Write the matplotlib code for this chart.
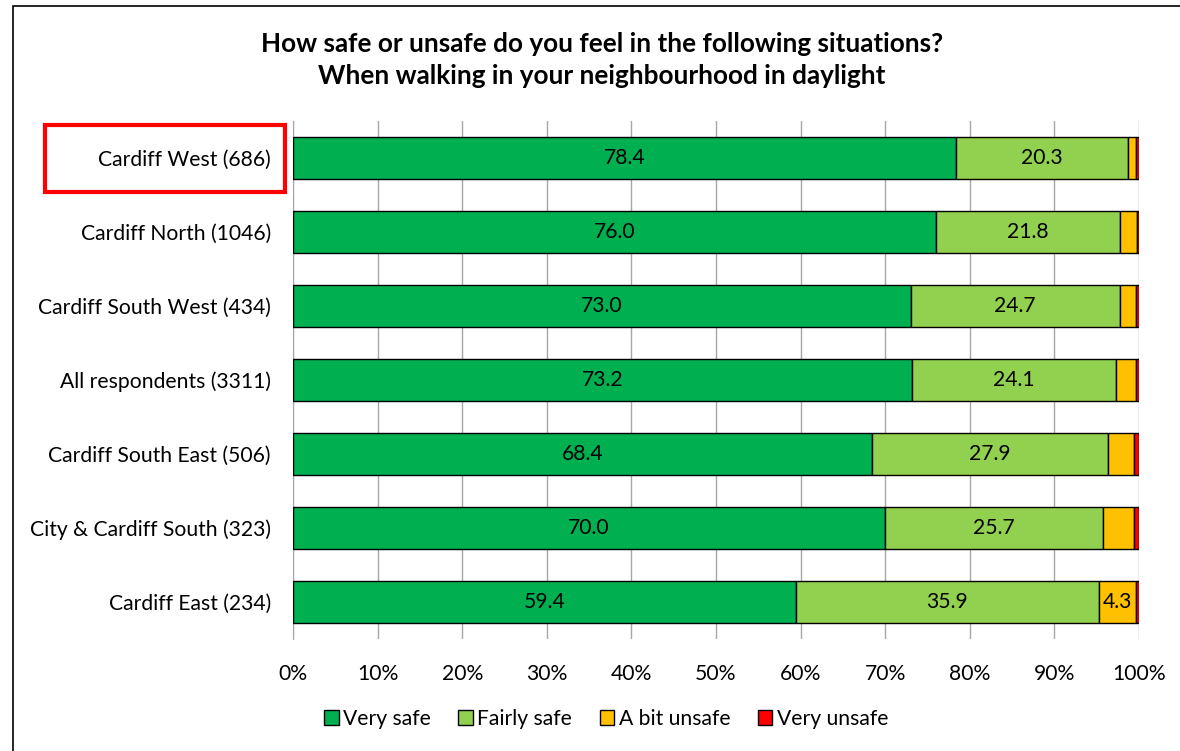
import matplotlib.pyplot as plt
import matplotlib.patches as mpatches
import numpy as np

plt.rcParams['font.family'] = ['Lato', 'DejaVu Sans']

areas = ['Cardiff West (686)', 'Cardiff North (1046)', 'Cardiff South West (434)',
         'All respondents (3311)', 'Cardiff South East (506)',
         'City & Cardiff South (323)', 'Cardiff East (234)']
very_safe = [78.4, 76.0, 73.0, 73.2, 68.4, 70.0, 59.4]
fairly_safe = [20.3, 21.8, 24.7, 24.1, 27.9, 25.7, 35.9]
bit_unsafe = [1.0, 2.0, 2.0, 2.3, 3.1, 3.7, 4.3]
very_unsafe = [0.3, 0.2, 0.3, 0.4, 0.6, 0.6, 0.4]

series = [('Very safe', very_safe, '#00B050'),
          ('Fairly safe', fairly_safe, '#92D050'),
          ('A bit unsafe', bit_unsafe, '#FFC000'),
          ('Very unsafe', very_unsafe, '#FF0000')]

fs = 15.2

fig = plt.figure(figsize=(11.8, 7.51), dpi=100)
ax = fig.add_axes([293/1180, 1 - 639/751, (1139-293)/1180, 518/751])

y = np.arange(len(areas))
left = np.zeros(len(areas))
for name, vals, col in series:
    vals = np.array(vals)
    ax.barh(y, vals, left=left, height=0.58, color=col, edgecolor='black',
            linewidth=1, label=name, zorder=3)
    for i, v in enumerate(vals):
        if name in ('Very safe', 'Fairly safe') or (name == 'A bit unsafe' and v >= 4):
            ax.text(left[i] + v / 2, y[i], f'{v:.1f}', ha='center', va='center',
                    fontsize=fs, zorder=4)
    left += vals

ax.set_xlim(0, 100)
ax.set_ylim(len(areas) - 0.5, -0.5)
ax.set_yticks(y)
ax.set_yticklabels(areas, fontsize=fs)
ax.set_xticks(np.arange(0, 101, 10))
ax.set_xticklabels([f'{t}%' for t in range(0, 101, 10)], fontsize=fs)
ax.tick_params(length=0)
ax.tick_params(axis='y', pad=16)
ax.tick_params(axis='x', pad=18)
ax.grid(axis='x', color='#A6A6A6', linewidth=1, zorder=0)
for s in ['top', 'right', 'bottom']:
    ax.spines[s].set_visible(False)
ax.spines['left'].set_color('#A6A6A6')

fig.text(602/1180, 1 - 44/751, 'How safe or unsafe do you feel in the following situations?',
         ha='center', va='center', fontsize=18.8, fontweight='bold')
fig.text(602/1180, 1 - 76/751, 'When walking in your neighbourhood in daylight',
         ha='center', va='center', fontsize=18.8, fontweight='bold')

handles = [mpatches.Patch(facecolor=c, edgecolor='black', label=n) for n, _, c in series]
fig.legend(handles=handles, loc='center', bbox_to_anchor=(606/1180, 1 - 719/751),
           ncol=4, frameon=False, fontsize=fs, handlelength=0.7, handleheight=0.7,
           handletextpad=0.2, columnspacing=1.3)

# outer border and highlight box
fig.patches.append(mpatches.Rectangle((13/1180, -0.05), 1.2, 1.05 - 6/751,
                                      transform=fig.transFigure, fill=False,
                                      edgecolor='black', linewidth=1.2))
fig.patches.append(mpatches.Rectangle((45/1180, 1 - 192/751), 240/1180, 67/751,
                                      transform=fig.transFigure, fill=False,
                                      edgecolor='#FF0000', linewidth=3))

fig.savefig('out.png', dpi=100)
